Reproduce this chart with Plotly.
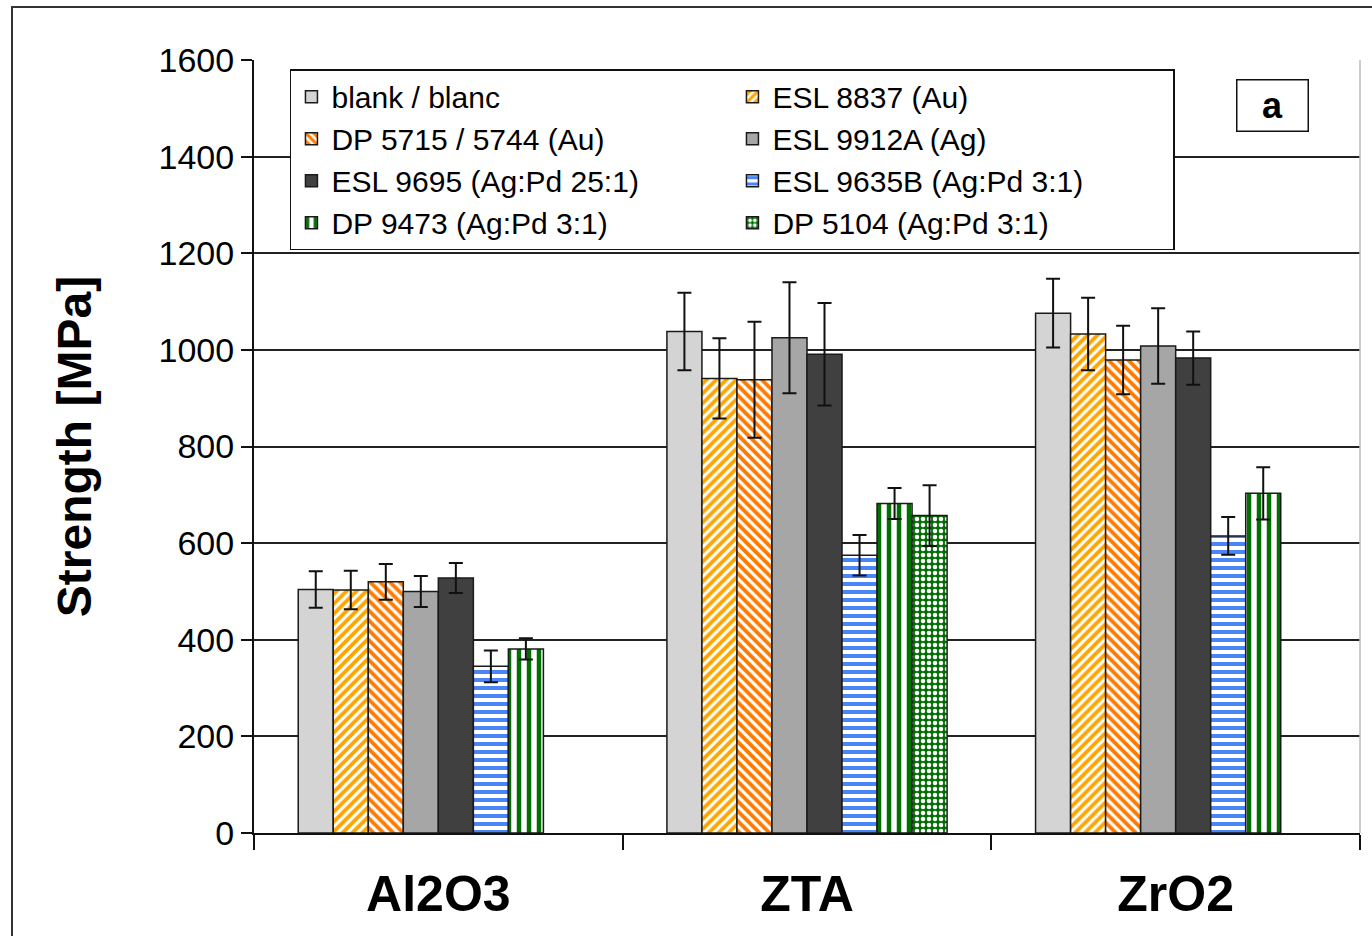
import plotly.graph_objects as go

categories = ["Al2O3", "ZTA", "ZrO2"]

series_names = [
    "blank / blanc",
    "ESL 8837 (Au)",
    "DP 5715 / 5744 (Au)",
    "ESL 9912A (Ag)",
    "ESL 9695 (Ag:Pd 25:1)",
    "ESL 9635B (Ag:Pd 3:1)",
    "DP 9473 (Ag:Pd 3:1)",
    "DP 5104 (Ag:Pd 3:1)",
]

blank = [504, 1038, 1076]
blank_err = [38, 80, 71]
esl8837 = [503, 941, 1033]
esl8837_err = [40, 83, 75]
dp5715 = [520, 938, 979]
dp5715_err = [37, 120, 71]
esl9912a = [500, 1025, 1008]
esl9912a_err = [32, 115, 78]
esl9695 = [528, 991, 983]
esl9695_err = [31, 106, 55]
esl9635b = [345, 575, 615]
esl9635b_err = [33, 42, 39]
dp9473 = [381, 682, 703]
dp9473_err = [22, 32, 54]
dp5104 = [None, 657, None]
dp5104_err = [None, 63, None]

values = [blank, esl8837, dp5715, esl9912a, esl9695, esl9635b, dp9473, dp5104]
errors = [blank_err, esl8837_err, dp5715_err, esl9912a_err, esl9695_err,
          esl9635b_err, dp9473_err, dp5104_err]

styles = [
    dict(color="#D4D4D4", pattern=None),
    dict(color="#FFA500", pattern=dict(shape="/", fgcolor="#FFA500", bgcolor="white", size=7, solidity=0.55, fillmode="replace")),
    dict(color="#FF7F0E", pattern=dict(shape="\\", fgcolor="#FF7A00", bgcolor="white", size=7, solidity=0.55, fillmode="replace")),
    dict(color="#A6A6A6", pattern=None),
    dict(color="#404040", pattern=None),
    dict(color="#4A86F7", pattern=dict(shape="-", fgcolor="#4A86F7", bgcolor="white", size=8, solidity=0.5, fillmode="replace")),
    dict(color="#007000", pattern=dict(shape="|", fgcolor="#007000", bgcolor="white", size=10, solidity=0.45, fillmode="replace")),
    dict(color="#007000", pattern=dict(shape=".", fgcolor="white", bgcolor="#007000", size=6, solidity=0.45, fillmode="replace")),
]

FONT = "Liberation Sans, Arial, Helvetica, sans-serif"

fig = go.Figure()
for name, vals, errs, st in zip(series_names, values, errors, styles):
    marker = dict(color=st["color"], line=dict(color="#1a1a1a", width=1.5))
    if st["pattern"] is not None:
        marker["pattern"] = st["pattern"]
    fig.add_trace(go.Bar(
        name=name, x=categories, y=vals,
        marker=marker,
        error_y=dict(type="data", array=errs, visible=True,
                     color="#111111", thickness=2, width=7),
    ))

fig.update_layout(
    width=1372, height=936,
    margin=dict(l=254, r=12, t=60, b=103),
    paper_bgcolor="white", plot_bgcolor="white",
    barmode="group", bargap=0.24, bargroupgap=0,
    font=dict(family=FONT, color="black"),
    showlegend=True,
    legend=dict(
        orientation="h",
        x=0.0325, y=0.988, xanchor="left", yanchor="top",
        bgcolor="white", bordercolor="#111111", borderwidth=1.5,
        font=dict(family=FONT, size=30, color="black"),
        entrywidth=396, entrywidthmode="pixels",
        traceorder="normal",
    ),
    xaxis=dict(
        type="category",
        showline=True, linecolor="#111111", linewidth=2,
        ticks="outside", ticklen=15, tickwidth=2, tickcolor="#111111",
        tickson="boundaries",
        ticklabelstandoff=16,
        tickfont=dict(family=FONT, size=50, color="black", weight="bold"),
        showgrid=False,
    ),
    yaxis=dict(
        range=[0, 1600], dtick=200, tick0=0,
        showline=True, linecolor="#111111", linewidth=2,
        ticks="outside", ticklen=11, tickwidth=2, tickcolor="#111111",
        tickfont=dict(family=FONT, size=34, color="black"),
        showgrid=True, gridcolor="#222222", gridwidth=1.5,
        zeroline=False,
        title=dict(text="Strength [MPa]", standoff=52,
                   font=dict(family=FONT, size=48, color="black", weight="bold")),
    ),
)

# figure frame and light right border of plot area
fig.add_shape(type="rect", xref="paper", yref="paper",
              x0=-0.2188, y0=-0.16, x1=1.03, y1=1.0686,
              line=dict(color="#333333", width=2), layer="below")
fig.add_shape(type="line", xref="paper", yref="paper",
              x0=1, y0=0, x1=1, y1=1, line=dict(color="#BBBBBB", width=1.5))

fig.add_annotation(
    text="<b>a</b>", xref="paper", yref="paper", x=0.921, y=0.941,
    xanchor="center", yanchor="middle",
    showarrow=False, font=dict(family=FONT, size=36, color="black"),
    bordercolor="#111111", borderwidth=1.5, bgcolor="white",
    width=68, height=48,
)

fig.write_html("out.html")
